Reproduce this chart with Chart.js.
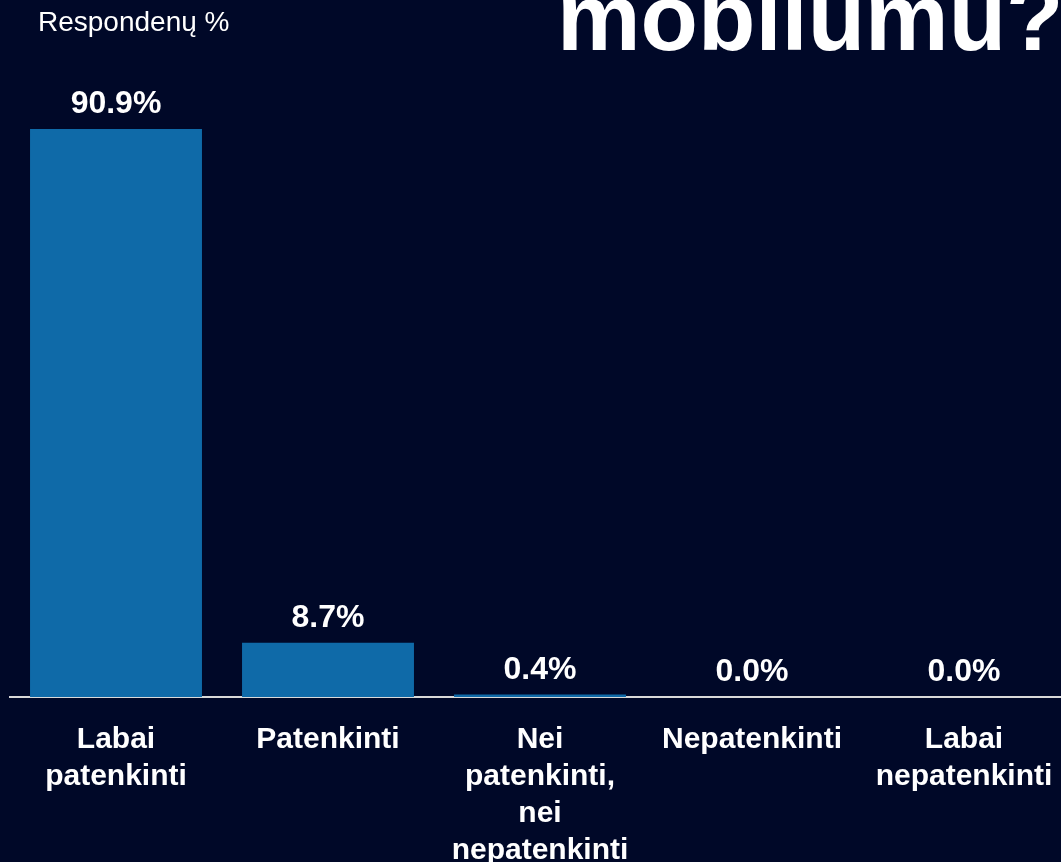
<!DOCTYPE html>
<html>
<head>
<meta charset="utf-8">
<title>mobilumu?</title>
<style>
  html, body { margin: 0; padding: 0; background: #000828; overflow: hidden; }
  #wrap { position: relative; width: 1061px; height: 862px; overflow: hidden; }
  #chart { position: absolute; left: 0; top: 0; }
  .title {
    position: absolute; left: 557px; top: -29px; margin: 0;
    font: bold 94px "Liberation Sans", Arial, sans-serif; line-height: 1;
    color: #fff; white-space: nowrap;
  }
  .unit {
    position: absolute; left: 38px; top: 8px;
    font: 28px "Liberation Sans", Arial, sans-serif; line-height: 1;
    color: #fff; white-space: nowrap;
  }
</style>
</head>
<body>
<div id="wrap">
  <canvas id="chart" width="1080" height="862"></canvas>
  <div class="title">mobilumu?</div>
  <div class="unit">Respondenų %</div>
</div>
<script src="https://cdn.jsdelivr.net/npm/chart.js@4"></script>
<script>
// answers (x axis) and share of respondents
const categories = [
  ['Labai', 'patenkinti'],
  ['Patenkinti'],
  ['Nei', 'patenkinti,', 'nei', 'nepatenkinti'],
  ['Nepatenkinti'],
  ['Labai', 'nepatenkinti']
];
const shares = [90.9, 8.7, 0.4, 0.0, 0.0];

const fontFamily = '"Liberation Sans", Arial, sans-serif';

// prints the % value above every bar
const valueLabels = {
  id: 'valueLabels',
  afterDatasetsDraw(chart) {
    const ctx = chart.ctx;
    const meta = chart.getDatasetMeta(0);
    ctx.save();
    ctx.fillStyle = '#ffffff';
    ctx.font = 'bold 32px ' + fontFamily;
    ctx.textAlign = 'center';
    ctx.textBaseline = 'alphabetic';
    meta.data.forEach(function(bar, i) {
      ctx.fillText(shares[i].toFixed(1) + '%', bar.x, bar.y - 16);
    });
    ctx.restore();
  }
};

new Chart(document.getElementById('chart'), {
  type: 'bar',
  data: {
    labels: categories,
    datasets: [{
      data: shares,
      backgroundColor: '#0f6aa8',
      borderWidth: 0,
      categoryPercentage: 1,
      barPercentage: 0.811
    }]
  },
  options: {
    responsive: false,
    animation: false,
    layout: { padding: { left: 10, right: 10, top: 72, bottom: 0 } },
    plugins: {
      legend: { display: false },
      tooltip: { enabled: false }
    },
    scales: {
      x: {
        grid: { display: false },
        border: { display: true, color: '#d9d9d9', width: 2 },
        ticks: {
          color: '#ffffff',
          autoSkip: false,
          maxRotation: 0,
          padding: 16,
          font: { family: fontFamily, size: 30, weight: 'bold', lineHeight: '37px' }
        },
        afterFit(scale) { scale.height = 165; }
      },
      y: {
        display: false,
        min: 0,
        max: 100
      }
    }
  },
  plugins: [valueLabels]
});
</script>
</body>
</html>
